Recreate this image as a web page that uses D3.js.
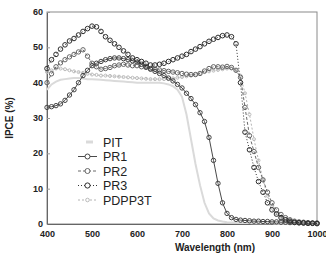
<!DOCTYPE html>
<html>
<head>
<meta charset="utf-8">
<script src="https://cdn.jsdelivr.net/npm/d3@7"></script>
<style>
  body { margin: 0; background: #fff; }
  svg { display: block; font-family: "Liberation Sans", Arial, sans-serif; }
</style>
</head>
<body>
<div id="chart"></div>
<script>
// wavelength grid (nm)
const wavelengths = d3.range(400, 1001, 10);

const pit = [38, 39.5, 40.3, 40.8, 41, 41.2, 41.3, 41.3, 41.2, 41, 41, 40.9, 40.8, 40.7, 40.6, 40.5, 40.4, 40.3, 40.2, 40.1,
  40, 40, 40, 40, 40, 40, 39.8, 39.5, 39, 38, 36, 31, 24, 17, 11, 6, 3, 1.6, 1, 0.7,
  0.5, 0.4, 0.4, 0.3, 0.3, 0.3, 0.2, 0.2, 0.2, 0.2, 0.2, 0.1, 0.1, 0.1, 0.1, 0.1, 0.1, 0.1, 0.1, 0, 0];

const pr1 = [33, 33.2, 33.5, 34, 35, 36.5, 38, 40, 42, 43.5, 44.8, 45.5, 46, 46.5, 46.8, 47, 47, 46.8, 46.5, 46.2,
  45.8, 45.2, 44.5, 43.8, 43.2, 42.6, 42, 41.3, 40.5, 39.5, 38.5, 37, 35.5, 33.8, 31.5, 29, 24.5, 18, 11.5, 6,
  3, 1.8, 1.3, 1.1, 1, 0.9, 0.8, 0.8, 0.7, 0.7, 0.6, 0.6, 0.5, 0.5, 0.4, 0.4, 0.3, 0.3, 0.2, 0.2, 0.2];

const pr2 = [40, 42.5, 44.5, 45.6, 46.5, 47.3, 48, 48.7, 49.3, 47.5, 45.5, 44.5, 43.8, 44, 44.3, 44.8, 45, 45.2, 45, 44.8,
  44.8, 44.5, 44.3, 44, 43.8, 43.6, 43.4, 43.2, 43, 42.8, 42.6, 42.4, 42.3, 42.3, 42.6, 43.3, 44, 44.5, 44.5, 44.4,
  44.6, 44.3, 43.5, 41.5, 33, 25, 20.5, 16, 12.5, 9, 6, 4, 2.7, 1.8, 1.2, 0.8, 0.6, 0.5, 0.4, 0.3, 0.3];

const pr3 = [44, 46.5, 48, 49.5, 50.7, 51.8, 52.5, 53.5, 54.5, 55.3, 56, 55.8, 54.5, 53, 52, 51, 50, 49, 48, 47,
  46.5, 46, 45.5, 45, 45, 45.2, 45.5, 46, 46.5, 47, 47.5, 48, 48.8, 49.5, 50.2, 51, 51.7, 52.3, 52.8, 53.3,
  53.5, 53, 51, 40, 26, 21, 16, 12, 9, 6, 4, 2.8, 1.8, 1.2, 0.8, 0.5, 0.4, 0.3, 0.2, 0.2, 0.1];

const pdpp3t = [43, 43.5, 44, 44, 43.8, 43.5, 43.2, 43, 42.8, 42.5, 42.3, 42.2, 42, 42, 41.9, 41.8, 41.7, 41.6, 41.5, 41.4,
  41.3, 41.2, 41.1, 41, 41, 41, 41, 41, 41.2, 41.4, 41.6, 41.8, 42, 42.3, 42.6, 43, 43.2, 43.4, 43.6, 43.8,
  44, 44, 43.5, 42, 37, 31, 24, 18, 12.5, 8, 5, 3, 2, 1.3, 0.9, 0.6, 0.5, 0.4, 0.3, 0.3, 0.2];

const seriesNames = ["PIT", "PR1", "PR2", "PR3", "PDPP3T"];
const seriesValues = [pit, pr1, pr2, pr3, pdpp3t];

const xTicks = [400, 500, 600, 700, 800, 900, 1000];
const yTicks = [0, 10, 20, 30, 40, 50, 60];

const width = 326, height = 262;
const margin = { top: 12, right: 8, bottom: 38, left: 47 };

const svg = d3.select("#chart").append("svg")
  .attr("width", width)
  .attr("height", height);

const x = d3.scaleLinear().domain([400, 1000]).range([margin.left, width - margin.right - 1]);
const y = d3.scaleLinear().domain([0, 60]).range([height - margin.bottom, margin.top]);

// styles per series
const styles = {
  PIT:    { stroke: "#dadada", width: 2, dash: null, marker: null, r: 0 },
  PR1:    { stroke: "#4a4a4a", width: 1, dash: null, marker: "#444", r: 2.2 },
  PR2:    { stroke: "#6a6a6a", width: 1, dash: "3,2", marker: "#666", r: 2.2 },
  PR3:    { stroke: "#333", width: 1, dash: "1,2", marker: "#2e2e2e", r: 2.3 },
  PDPP3T: { stroke: "#b4b4b4", width: 1, dash: "2,2", marker: "#bbb", r: 1.5 }
};

// frame
svg.append("rect")
  .attr("x", x(400)).attr("y", y(60))
  .attr("width", x(1000) - x(400)).attr("height", y(0) - y(60))
  .attr("fill", "none").attr("stroke", "#8a8a8a").attr("stroke-width", 1);

// left axis
svg.append("g")
  .attr("transform", `translate(${x(400)},0)`)
  .call(d3.axisRight(y).tickValues(yTicks).tickSize(3).tickFormat(""))
  .call(g => g.select(".domain").attr("stroke", "#666"))
  .call(g => g.selectAll(".tick line").attr("stroke", "#999"));

yTicks.forEach(v => {
  svg.append("text")
    .attr("x", x(400) - 4)
    .attr("y", y(v) + 3)
    .attr("text-anchor", "end")
    .attr("font-size", "9px")
    .attr("font-weight", "bold")
    .attr("fill", "#222")
    .text(v);
});

// bottom axis
svg.append("g")
  .attr("transform", `translate(0,${y(0)})`)
  .call(d3.axisBottom(x).tickValues(xTicks).tickSize(0).tickPadding(7).tickFormat(d => d))
  .call(g => g.select(".domain").attr("stroke", "#666"))
  .call(g => g.selectAll(".tick text")
    .attr("font-size", "9px")
    .attr("font-weight", "bold")
    .attr("fill", "#222")
    .attr("font-family", "'Liberation Sans', Arial, sans-serif"));

// lines
const line = d3.line()
  .x((d, i) => x(wavelengths[i]))
  .y(d => y(d));

const drawOrder = ["PIT", "PDPP3T", "PR2", "PR1", "PR3"];
drawOrder.forEach(name => {
  const vals = seriesValues[seriesNames.indexOf(name)];
  const s = styles[name];
  svg.append("path")
    .datum(vals)
    .attr("fill", "none")
    .attr("stroke", s.stroke)
    .attr("stroke-width", s.width)
    .attr("stroke-dasharray", s.dash)
    .attr("d", line);
  if (s.marker) {
    svg.append("g").selectAll("circle")
      .data(vals)
      .enter()
      .append("circle")
      .attr("cx", (d, i) => x(wavelengths[i]))
      .attr("cy", d => y(d))
      .attr("r", s.r)
      .attr("fill", "none")
      .attr("stroke", s.marker)
      .attr("stroke-width", 1);
  }
});

// legend
const legend = svg.append("g").attr("transform", "translate(78,142)");
seriesNames.forEach((name, i) => {
  const s = styles[name];
  const row = legend.append("g").attr("transform", `translate(0,${i * 14.5})`);
  if (name === "PIT") {
    row.append("line")
      .attr("x1", 8).attr("x2", 15).attr("y1", 0).attr("y2", 0)
      .attr("stroke", s.stroke).attr("stroke-width", 3);
  } else {
    row.append("line")
      .attr("x1", 0).attr("x2", 19).attr("y1", 0).attr("y2", 0)
      .attr("stroke", s.stroke).attr("stroke-width", 1)
      .attr("stroke-dasharray", s.dash);
    row.append("circle")
      .attr("cx", 9.5).attr("cy", 0).attr("r", s.r + 0.3)
      .attr("fill", "#fff").attr("stroke", s.marker).attr("stroke-width", 1);
  }
  row.append("text")
    .attr("x", 25)
    .attr("y", 4.5)
    .attr("font-size", "12.5px")
    .attr("fill", "#222")
    .text(name);
});

// axis titles
svg.append("text")
  .attr("transform", `translate(13,${(y(0) + y(60)) / 2}) rotate(-90)`)
  .attr("text-anchor", "middle")
  .attr("font-size", "10px")
  .attr("font-weight", "bold")
  .attr("fill", "#222")
  .text("IPCE (%)");

svg.append("text")
  .attr("x", 215)
  .attr("y", 251)
  .attr("text-anchor", "middle")
  .attr("font-size", "10px")
  .attr("font-weight", "bold")
  .attr("fill", "#222")
  .text("Wavelength (nm)");
</script>
</body>
</html>
